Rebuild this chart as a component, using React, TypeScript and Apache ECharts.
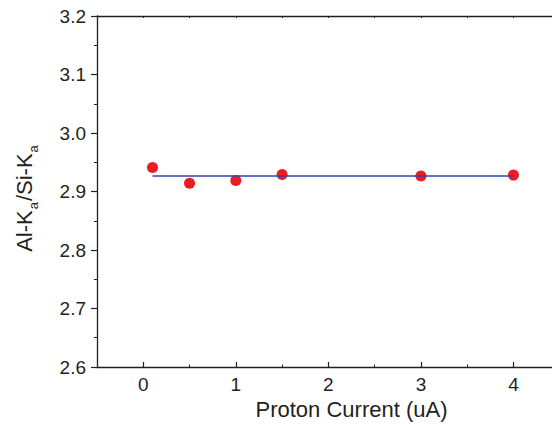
import React, { useEffect, useRef } from "react";
import * as echarts from "echarts";

const currents = [0.1, 0.5, 1.0, 1.5, 3.0, 4.0];
const ratios = [2.941, 2.914, 2.919, 2.929, 2.9265, 2.928];
const fitX = [0.1, 4.0];
const fitY = [2.9265, 2.9265];
const xMajorTicks = [0, 1, 2, 3, 4];

const INK = "#231F20";
const FONT = "'Liberation Sans', Arial, sans-serif";

export default function App() {
  const ref = useRef<HTMLDivElement>(null);
  useEffect(() => {
    if (!ref.current) return;
    const chart = echarts.init(ref.current, null, { renderer: "svg" });
    const xMin = -0.5;
    const xMax = 5;
    chart.setOption({
      animation: false,
      backgroundColor: "#ffffff",
      textStyle: { fontFamily: FONT },
      grid: { left: 97, top: 16, width: 509, height: 351, containLabel: false, outerBoundsMode: "none" },
      xAxis: [
        {
          type: "value",
          position: "bottom",
          min: xMin,
          max: xMax,
          name: "Proton Current (uA)",
          nameLocation: "middle",
          nameGap: 30,
          nameTextStyle: { fontSize: 22, color: INK, fontFamily: FONT },
          axisLine: { show: true, onZero: false, lineStyle: { color: INK, width: 1.3 } },
          axisTick: { show: true, inside: true, length: 5, customValues: xMajorTicks, lineStyle: { color: INK, width: 1.2 } },
          axisLabel: { show: true, customValues: xMajorTicks, margin: 8, fontSize: 19, color: INK, fontFamily: FONT },
          splitLine: { show: false },
        },
        {
          type: "value",
          position: "bottom",
          min: xMin,
          max: xMax,
          interval: 0.5,
          axisLine: { show: false, onZero: false },
          axisTick: { show: true, inside: true, length: 2.5, lineStyle: { color: INK, width: 1 } },
          axisLabel: { show: false },
          splitLine: { show: false },
        },
        {
          type: "value",
          position: "top",
          min: xMin,
          max: xMax,
          interval: 0.5,
          axisLine: { show: true, onZero: false, lineStyle: { color: INK, width: 1.3 } },
          axisTick: { show: true, inside: true, length: 2, lineStyle: { color: INK, width: 1 } },
          axisLabel: { show: false },
          splitLine: { show: false },
        },
      ],
      yAxis: {
        type: "value",
        min: 2.6,
        max: 3.2,
        interval: 0.1,
        axisLine: { show: true, onZero: false, lineStyle: { color: INK, width: 1.3 } },
        axisTick: { show: true, inside: false, length: 6, lineStyle: { color: INK, width: 1.2 } },
        minorTick: { show: true, splitNumber: 2, length: 3, lineStyle: { color: INK, width: 1 } },
        axisLabel: {
          margin: 11,
          fontSize: 19,
          color: INK,
          fontFamily: FONT,
          formatter: (v: number) => v.toFixed(1),
        },
        splitLine: { show: false },
      },
      graphic: [
        {
          type: "text",
          x: 24,
          y: 198,
          rotation: Math.PI / 2,
          style: {
            text: "{b|Al-K}{s|a}{b|/Si-K}{s|a}",
            align: "center",
            verticalAlign: "middle",
            fill: INK,
            rich: {
              b: { fontSize: 22, lineHeight: 26, fontFamily: FONT, fill: INK },
              s: { fontSize: 13, fontFamily: FONT, padding: [18, 1, 0, 1], fill: INK },
            },
          },
        },
      ],
      series: [
        {
          type: "scatter",
          xAxisIndex: 0,
          data: currents.map((c, i) => [c, ratios[i]]),
          symbol: "circle",
          symbolSize: 11,
          itemStyle: { color: "#ED1C24", opacity: 1 },
          z: 2,
        },
        {
          type: "line",
          xAxisIndex: 0,
          data: fitX.map((x, i) => [x, fitY[i]]),
          showSymbol: false,
          symbol: "none",
          lineStyle: { color: "#3343A8", width: 1.3 },
          z: 3,
        },
      ],
    });
    return () => chart.dispose();
  }, []);
  return (
    <div
      ref={ref}
      style={{ position: "fixed", left: 0, top: 0, width: 552, height: 425, background: "#fff" }}
    />
  );
}
